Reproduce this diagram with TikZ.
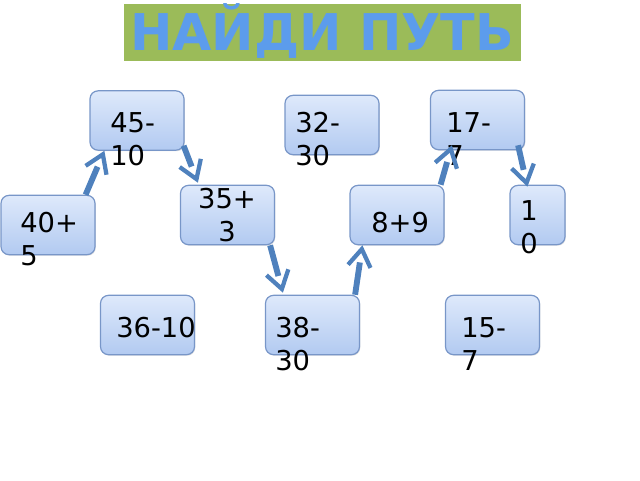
\documentclass[tikz,border=0pt]{standalone}
\usepackage{fontspec}
\setmainfont{DejaVu Sans}
\usepackage{tikz}
\usetikzlibrary{arrows.meta,calc,shadows}

\definecolor{bannergreen}{RGB}{155,187,89}
\definecolor{bannerblue}{RGB}{92,156,236}
\definecolor{tiletop}{RGB}{222,233,251}
\definecolor{tilebottom}{RGB}{178,202,241}
\definecolor{tileedge}{RGB}{120,150,200}
\definecolor{pathblue}{RGB}{79,129,189}

\tikzset{
    banner/.style={fill=bannergreen, draw=white, line width=2.25pt, minimum width=300pt, minimum height=45pt,
        inner sep=0pt, text height=27.75pt, text depth=0pt, text=bannerblue,
        font=\bfseries\fontsize{38}{40}\selectfont,
        drop shadow={opacity=0.35, shadow xshift=0.5pt, shadow yshift=-1.5pt}},
    tile/.style={draw=tileedge, line width=0.9pt, rounded corners=6pt, top color=tiletop, bottom color=tilebottom,
        minimum width=70.5pt, minimum height=44.5pt, inner sep=0pt,
        drop shadow={opacity=0.25, shadow xshift=0.6pt, shadow yshift=-0.8pt}},
    sum/.style={font=\fontsize{20.5}{24.75}\selectfont, align=left, anchor=north west, inner sep=0pt},
    hop/.style={draw=pathblue, line width=4.4pt, shorten >=13pt,
        postaction={draw, shorten >=0pt, dash pattern=on 0pt off 200pt,
            -{Straight Barb[length=13pt, width=17pt, line width=3.2pt]}}}
}

\begin{document}
\begin{tikzpicture}[x=0.75pt, y=-0.75pt]
    \useasboundingbox (0,0) rectangle (640,480);

    % title
    \node[banner] (banner) at (322,32) {НАЙДИ ПУТЬ};

    % top row
    \node[tile] (b4510) at (137,120.5) {};
    \node[tile] (b3230) at (332,125) {};
    \node[tile] (b177) at (477.5,120) {};
    \node[sum] (t4510) at (110,112) {45-\\10};
    \node[sum] (t3230) at (295,112) {32-\\30};
    \node[sum] (t177) at (446,112) {17-\\7};

    % middle row
    \node[tile] (b405) at (48,225) {};
    \node[tile] (b353) at (227.5,215) {};
    \node[tile] (b89) at (397,215) {};
    \node[tile, minimum width=41.25pt] (b10) at (537.5,215) {};
    \node[sum] (t405) at (20,212) {40+\\5};
    \node[sum, align=center, anchor=north] (t353) at (227,188) {35+\\3};
    \node[sum] (t89) at (371,212) {8+9};
    \node[sum] (t10) at (520,200) {1\\0};

    % bottom row
    \node[tile] (b3610) at (147.5,325) {};
    \node[tile] (b3830) at (312.5,325) {};
    \node[tile] (b157) at (492.5,325) {};
    \node[sum] (t3610) at (116,317) {36-10};
    \node[sum] (t3830) at (275,317) {38-\\30};
    \node[sum] (t157) at (461,317) {15-\\7};

    % path
    \draw[hop] ($(b405.north east)+(-10,0)$) -- ($(b4510.south west)+(15,0)$);
    \draw[hop] ($(b4510.south east)+(-1,-5)$) -- ($(b353.north west)+(18,-2)$);
    \draw[hop] ($(b353.south east)+(-5,0)$) -- ($(b3830.north west)+(18,-2)$);
    \draw[hop] ($(b3830.north east)+(-5,0)$) -- ($(b89.south west)+(13,0)$);
    \draw[hop] ($(b89.north east)+(-4,0)$) -- ($(b177.south west)+(22,-5)$);
    \draw[hop] ($(b177.south east)+(-7,-5)$) -- ($(b10.north west)+(18,2)$);
\end{tikzpicture}
\end{document}
